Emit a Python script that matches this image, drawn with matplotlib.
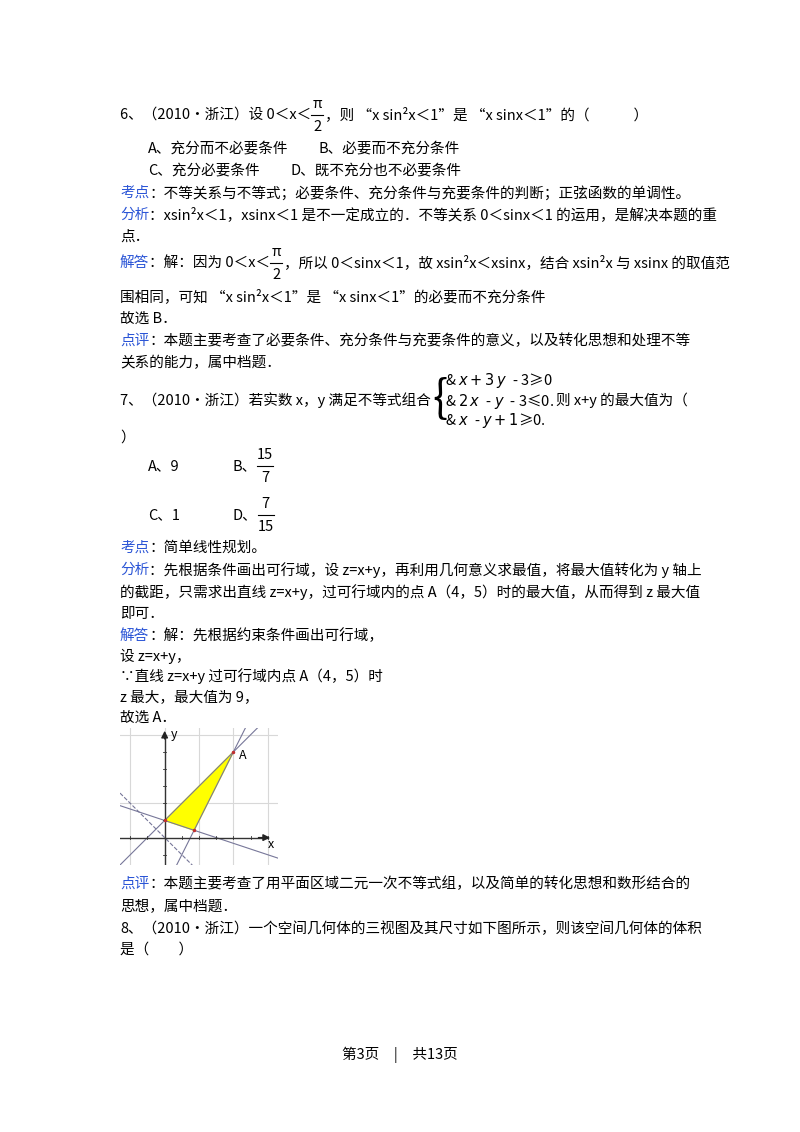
import matplotlib
matplotlib.use("Agg")
import matplotlib.pyplot as plt
import numpy as np

plt.rcParams['font.family'] = ['Noto Sans CJK SC', 'DejaVu Sans']

# data for the small chart (constraint lines and feasible region)
line_a = [1, 3, -3]   # x + 3y - 3 = 0
line_b = [2, -1, -3]  # 2x - y - 3 = 0
line_c = [1, -1, 1]   # x - y + 1 = 0
obj = [1, 1, 0]       # x + y = 0 (dashed)
region_x = [0, 12/7, 4]
region_y = [1, 3/7, 5]
point_A = (4, 5)

W, H = 800, 1132
fig = plt.figure(figsize=(8, 11.32), dpi=100)
renderer = fig.canvas.get_renderer()
BLUE = '#2b55d6'
FS = 10.5

def T(x, y, s, color='black', size=FS, ha='left'):
    t = fig.text(x / W, 1 - y / H, s, color=color, fontsize=size, ha=ha, va='center')
    return t.get_window_extent(renderer).width

def frac(x, y, num, den, w=14, size=FS):
    T(x + w / 2, y - 11, num, size=size, ha='center')
    T(x + w / 2, y + 12, den, size=size, ha='center')
    fig.add_artist(plt.Line2D([x / W, (x + w) / W], [1 - y / H, 1 - y / H], color='black', lw=0.8))
    return w + 2

def line(y, pieces, x=120):
    for p in pieces:
        if isinstance(p, tuple) and p[0] == 'frac':
            x += frac(x, y, p[1], p[2], p[3])
        elif isinstance(p, tuple):
            x += T(x, y, p[0], p[1])
        else:
            x += T(x, y, p)
    return x

# Q6
line(115, ["6、（2010•浙江）设 0＜x＜", ('frac', "π", "2", 12), "，则 “x sin²x＜1”是 “x sinx＜1”的（　　　）"])
T(148, 148, "A、充分而不必要条件")
T(318, 148, "B、必要而不充分条件")
T(148, 170, "C、充分必要条件")
T(290, 170, "D、既不充分也不必要条件")
line(193, [("考点", BLUE), "：不等关系与不等式；必要条件、充分条件与充要条件的判断；正弦函数的单调性。"])
line(215, [("分析", BLUE), "：xsin²x＜1，xsinx＜1 是不一定成立的．不等关系 0＜sinx＜1 的运用，是解决本题的重"])
T(120, 237, "点．")
line(263, [("解答", BLUE), "：解：因为 0＜x＜", ('frac', "π", "2", 12), "，所以 0＜sinx＜1，故 xsin²x＜xsinx，结合 xsin²x 与 xsinx 的取值范"])
T(120, 297, "围相同，可知 “x sin²x＜1”是 “x sinx＜1”的必要而不充分条件")
T(120, 319, "故选 B．")
line(341, [("点评", BLUE), "：本题主要考查了必要条件、充分条件与充要条件的意义，以及转化思想和处理不等"])
T(120, 363, "关系的能力，属中档题．")

# Q7
xe = line(400, ["7、（2010•浙江）若实数 x，y 满足不等式组合"])
T(xe + 1, 399, "{", size=32)
T(xe + 14, 381, "& $x+3\\,y\\;$ - 3≥0")
xe2 = T(xe + 14, 401, "& $2\\,x\\;$ - $y\\;$ - 3≤0.")
T(xe + 14, 421, "& $x\\;$ - $y+1$≥0.")
T(xe + 16 + xe2, 400, "则 x+y 的最大值为（")
T(120, 438, "）")
T(148, 466, "A、9")
line(466, ["B、", ('frac', "15", "7", 16)], x=233)
T(148, 515, "C、1")
line(515, ["D、", ('frac', "7", "15", 16)], x=233)
line(548, [("考点", BLUE), "：简单线性规划。"])
line(570, [("分析", BLUE), "：先根据条件画出可行域，设 z=x+y，再利用几何意义求最值，将最大值转化为 y 轴上"])
T(120, 592, "的截距，只需求出直线 z=x+y，过可行域内的点 A（4，5）时的最大值，从而得到 z 最大值")
T(120, 614, "即可．")
line(636, [("解答", BLUE), "：解：先根据约束条件画出可行域，"])
T(120, 656, "设 z=x+y，")
T(120, 676, "∵直线 z=x+y 过可行域内点 A（4，5）时")
T(120, 698, "z 最大，最大值为 9，")
T(120, 718, "故选 A．")

# chart
ax = fig.add_axes([120 / W, 1 - 865 / H, 158 / W, 137 / H])
x0, x1, y0, y1 = -2.6, 6.6, -1.6, 6.4
ax.set_xlim(x0, x1); ax.set_ylim(y0, y1)
ax.axis('off')
for gx in [-2, 0, 2, 4, 6]:
    ax.plot([gx, gx], [y0, y1], color='#d8d8d8', lw=0.8, zorder=0)
for gy in [2, 6]:
    ax.plot([x0, x1], [gy, gy], color='#d8d8d8', lw=0.8, zorder=0)
ax.fill(region_x, region_y, color='#ffff00', zorder=1)
xs = np.linspace(x0, x1, 200)
for (a, b, c), ls in [(line_a, '-'), (line_b, '-'), (line_c, '-'), (obj, '--')]:
    ys = -(a * xs + c) / b
    ax.plot(xs, ys, color='#777799', lw=0.8, ls=ls, zorder=2)
ax.plot([x0, 6.0], [0, 0], color='#333333', lw=1, zorder=3)
ax.plot([0, 0], [y0, 6.0], color='#333333', lw=1, zorder=3)
ax.annotate('', xy=(6.3, 0), xytext=(5.3, 0), arrowprops=dict(arrowstyle='-|>', color='#222222', lw=1))
ax.annotate('', xy=(0, 6.4), xytext=(0, 5.6), arrowprops=dict(arrowstyle='-|>', color='#222222', lw=1))
for t in [-2, -1, 1, 2, 3, 4, 5, 6]:
    ax.plot([t, t], [-0.08, 0.08], color='#333', lw=0.6)
for t in [-1, 1, 2, 3, 4, 5]:
    ax.plot([-0.08, 0.08], [t, t], color='#333', lw=0.6)
ax.text(6.0, -0.6, 'x', fontsize=9)
ax.text(0.35, 5.8, 'y', fontsize=9)
ax.text(point_A[0] + 0.3, point_A[1] - 0.4, 'A', fontsize=9)
ax.plot([point_A[0], 0, 12/7], [point_A[1], 1, 3/7], 'o', color='#c03030', ms=1.5, zorder=4)

line(884, [("点评", BLUE), "：本题主要考查了用平面区域二元一次不等式组，以及简单的转化思想和数形结合的"])
T(120, 906, "思想，属中档题．")
T(120, 929, "8、（2010•浙江）一个空间几何体的三视图及其尺寸如下图所示，则该空间几何体的体积")
T(120, 950, "是（　　）")
T(400, 1055, "第3页　|　共13页", ha='center')

fig.savefig("out.png", dpi=100)
